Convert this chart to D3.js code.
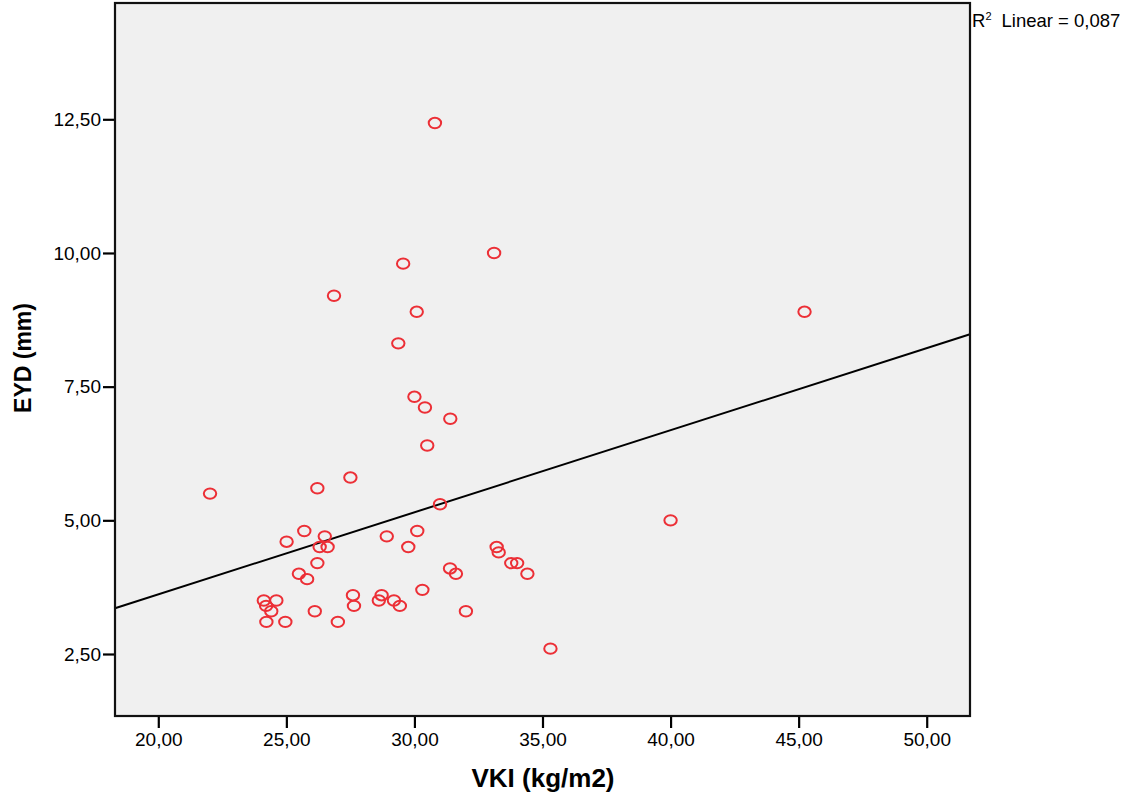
<!DOCTYPE html>
<html>
<head>
<meta charset="utf-8">
<script src="https://cdn.jsdelivr.net/npm/d3@7"></script>
<style>
  body { margin: 0; background: #fff; }
  text { font-family: "Liberation Sans", Arial, sans-serif; fill: #000; }
  .tick text { font-size: 19px; }
  .axis-title { font-weight: bold; }
</style>
</head>
<body>
<script>
  // VKI (kg/m2) per observation
  const vki = [
    30.80, 33.11, 29.56, 26.86, 30.09, 45.23, 29.37, 30.00, 30.41, 31.40,
    30.50, 27.50, 22.02, 26.21, 31.00, 40.00, 25.70, 30.11, 25.01, 26.50,
    26.30, 26.61, 28.92, 29.76, 33.21, 33.29, 33.78, 34.01, 34.41, 31.39,
    31.62, 26.21, 25.49, 25.81, 24.12, 24.21, 24.61, 24.41, 24.22, 24.96,
    26.11, 27.01, 27.60, 27.64, 28.72, 28.61, 29.20, 29.43, 30.31, 32.01,
    35.31
  ];
  // EYD (mm) per observation
  const eyd = [
    12.43, 10.00, 9.80, 9.20, 8.90, 8.90, 8.31, 7.31, 7.11, 6.90,
    6.40, 5.80, 5.50, 5.60, 5.30, 5.00, 4.80, 4.80, 4.60, 4.70,
    4.50, 4.50, 4.70, 4.50, 4.50, 4.40, 4.20, 4.20, 4.00, 4.10,
    4.00, 4.20, 4.00, 3.90, 3.50, 3.40, 3.50, 3.30, 3.10, 3.10,
    3.30, 3.10, 3.60, 3.40, 3.60, 3.50, 3.50, 3.40, 3.70, 3.30,
    2.60
  ];
  const xTicks = [20, 25, 30, 35, 40, 45, 50];
  const yTicks = [2.5, 5, 7.5, 10, 12.5];
  // linear fit as drawn in the output
  const fitIntercept = 0.545;
  const fitSlope = 0.1535;
  const rSquared = "0,087";

  const width = 1137;
  const height = 803;
  const frame = { left: 115, top: 3, right: 970, bottom: 716 };

  const locale = d3.formatLocale({ decimal: ",", thousands: ".", grouping: [3], currency: ["", ""] });
  const fmt = locale.format(".2f");

  const x = d3.scaleLinear().domain([18.31, 51.69]).range([frame.left, frame.right]);
  const y = d3.scaleLinear().domain([2.5, 12.5]).range([654, 119.3]);

  const svg = d3.select('body').append('svg')
    .attr('width', width)
    .attr('height', height);

  svg.append('rect')
    .attr('x', frame.left).attr('y', frame.top)
    .attr('width', frame.right - frame.left)
    .attr('height', frame.bottom - frame.top)
    .attr('fill', '#f0f0f0');

  const xAxis = svg.append('g')
    .attr('transform', `translate(0,${frame.bottom})`)
    .call(d3.axisBottom(x).tickValues(xTicks).tickFormat(fmt).tickSize(12).tickPadding(5));
  const yAxis = svg.append('g')
    .attr('transform', `translate(${frame.left},0)`)
    .call(d3.axisLeft(y).tickValues(yTicks).tickFormat(fmt).tickSize(12).tickPadding(2));
  for (const ax of [xAxis, yAxis]) {
    ax.select('.domain').remove();
    ax.selectAll('.tick line').attr('stroke', '#000').attr('stroke-width', 2.2);
    ax.attr('font-family', null).attr('font-size', null);
  }

  // fit line across the frame
  const x0 = x.domain()[0], x1 = x.domain()[1];
  svg.append('line')
    .attr('x1', x(x0)).attr('y1', y(fitIntercept + fitSlope * x0))
    .attr('x2', x(x1)).attr('y2', y(fitIntercept + fitSlope * x1))
    .attr('stroke', '#000')
    .attr('stroke-width', 2);

  svg.append('g')
    .selectAll('ellipse')
    .data(vki.map((v, i) => [v, eyd[i]]))
    .join('ellipse')
    .attr('cx', (d) => x(d[0]))
    .attr('cy', (d) => y(d[1]))
    .attr('rx', 6.2)
    .attr('ry', 5.2)
    .attr('fill', 'none')
    .attr('stroke', '#ec2f36')
    .attr('stroke-width', 2);

  svg.append('rect')
    .attr('x', frame.left).attr('y', frame.top)
    .attr('width', frame.right - frame.left)
    .attr('height', frame.bottom - frame.top)
    .attr('fill', 'none')
    .attr('stroke', '#111')
    .attr('stroke-width', 2.2);

  svg.append('text')
    .attr('class', 'axis-title')
    .attr('font-size', 26)
    .attr('x', 543).attr('y', 787)
    .attr('text-anchor', 'middle')
    .text('VKI (kg/m2)');

  svg.append('text')
    .attr('class', 'axis-title')
    .attr('font-size', 23)
    .attr('transform', 'translate(31,358) rotate(-90)')
    .attr('text-anchor', 'middle')
    .text('EYD (mm)');

  const r2 = svg.append('text')
    .attr('x', 972).attr('y', 27)
    .attr('font-size', 18.5);
  r2.append('tspan').text('R');
  r2.append('tspan').attr('font-size', 11).attr('dy', -7).text('2');
  r2.append('tspan').attr('dy', 7).attr('dx', 10).text('Linear = ' + rSquared);
</script>
</body>
</html>
